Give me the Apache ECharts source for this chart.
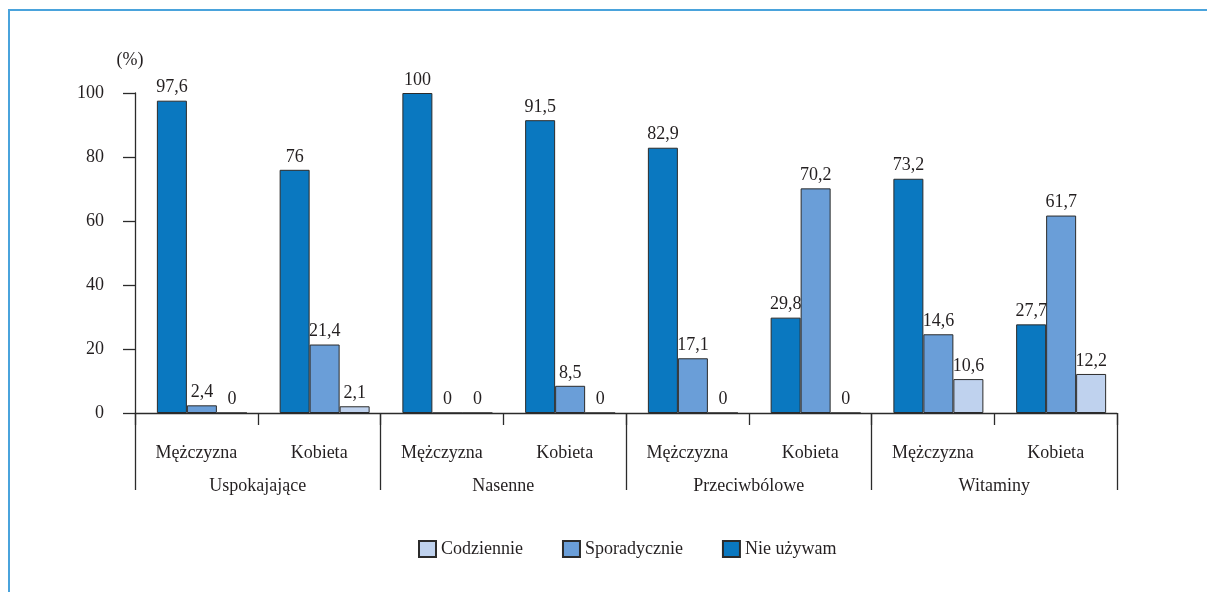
<!DOCTYPE html>
<html>
<head>
<meta charset="utf-8">
<title>Leki</title>
<script src="https://cdn.jsdelivr.net/npm/echarts@6/dist/echarts.min.js"></script>
<style>
  html, body { margin: 0; padding: 0; background: #fff; }
  #chart { width: 1207px; height: 592px; }
</style>
</head>
<body>
<div id="chart"></div>
<script>
  // categories
  const people = ['Mężczyzna', 'Kobieta', 'Mężczyzna', 'Kobieta', 'Mężczyzna', 'Kobieta', 'Mężczyzna', 'Kobieta']
  const groups = ['Uspokajające', 'Nasenne', 'Przeciwbólowe', 'Witaminy']

  // values (%) as printed on the chart
  const nieUzywam = [97.6, 76, 100, 91.5, 82.9, 29.8, 73.2, 27.7]
  const sporadycznie = [2.4, 21.4, 0, 8.5, 17.1, 70.2, 14.6, 61.7]
  const codziennie = [0, 2.1, 0, 0, 0, 0, 10.6, 12.2]
  // the source draws the Witaminy/Mężczyzna "14,6" bar at about 24,6
  const sporadyczneDrawn = [2.4, 21.4, 0, 8.5, 17.1, 70.2, 24.6, 61.7]

  const yTicks = { min: 0, max: 100, interval: 20 }

  const font = 'Liberation Serif, Times New Roman, serif'
  const ink = '#231f20'
  const line = '#2b2b2b'

  function comma (v) {
    return String(v).replace('.', ',')
  }

  function barSeries (name, drawn, printed, color) {
    return {
      name: name,
      type: 'bar',
      xAxisIndex: 0,
      barWidth: 30,
      barGap: '0%',
      data: drawn,
      itemStyle: { color: color, borderColor: line, borderWidth: 1 },
      label: {
        show: true,
        position: 'top',
        distance: 4,
        fontFamily: font,
        fontSize: 18,
        color: ink,
        formatter: function (p) { return comma(printed[p.dataIndex]) }
      }
    }
  }

  const chart = echarts.init(document.getElementById('chart'))
  chart.setOption({
    animation: false,
    backgroundColor: '#fff',
    textStyle: { fontFamily: font, color: ink },
    graphic: [{
      type: 'rect',
      shape: { x: 9, y: 10, width: 1400, height: 800 },
      style: { fill: 'none', stroke: '#4aa3dc', lineWidth: 2 },
      silent: true
    }],
    grid: { left: 135, right: 90, top: 93, bottom: 179 },
    legend: {
      data: ['Codziennie', 'Sporadycznie', 'Nie używam'],
      left: 413,
      top: 535,
      itemWidth: 17,
      itemHeight: 16,
      itemGap: 39,
      icon: 'rect',
      textStyle: { fontFamily: font, fontSize: 18, color: ink }
    },
    xAxis: [{
      type: 'category',
      data: people,
      position: 'bottom',
      axisLine: { show: true, lineStyle: { color: line, width: 1.3 } },
      axisTick: { show: true, length: 12, interval: 0, lineStyle: { color: line, width: 1.3 } },
      axisLabel: { interval: 0, margin: 31, fontFamily: font, fontSize: 18, color: ink }
    }, {
      type: 'category',
      data: groups,
      position: 'bottom',
      axisLine: { show: false },
      axisTick: { show: true, length: 77, interval: 0, lineStyle: { color: line, width: 1.3 } },
      axisLabel: { interval: 0, margin: 64, fontFamily: font, fontSize: 18, color: ink }
    }],
    yAxis: {
      type: 'value',
      min: yTicks.min,
      max: yTicks.max,
      interval: yTicks.interval,
      name: '(%)',
      nameLocation: 'end',
      nameGap: 24,
      nameTextStyle: { fontFamily: font, fontSize: 18, color: ink, padding: [0, 10, 0, 0] },
      splitLine: { show: false },
      axisLine: { show: true, lineStyle: { color: line, width: 1.3 } },
      axisTick: { show: true, length: 12, lineStyle: { color: line, width: 1.3 } },
      axisLabel: { margin: 31, fontFamily: font, fontSize: 18, color: ink }
    },
    series: [
      // empty slot that nudges the bar groups right, as in the source
      { name: 'spacer', type: 'bar', xAxisIndex: 0, barWidth: 11, barGap: '0%', data: [], silent: true },
      barSeries('Nie używam', nieUzywam, nieUzywam, '#0a78c0'),
      barSeries('Sporadycznie', sporadyczneDrawn, sporadycznie, '#6a9ed8'),
      barSeries('Codziennie', codziennie, codziennie, '#bfd2ee')
    ]
  })
</script>
</body>
</html>
